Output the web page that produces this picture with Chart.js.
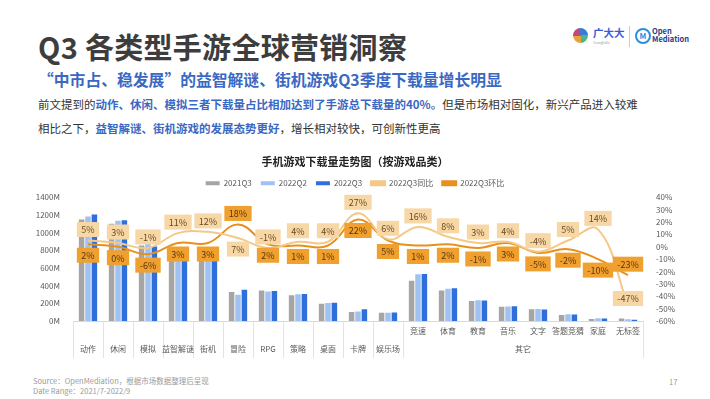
<!DOCTYPE html>
<html>
<head>
<meta charset="utf-8">
<script src="https://cdn.jsdelivr.net/npm/chart.js@4"></script>
<style>
  body { margin: 0; width: 710px; height: 399px; background: #fff; position: relative; overflow: hidden;
         font-family: "Noto Sans CJK SC", "Noto Sans", sans-serif; }
  .abs { position: absolute; white-space: nowrap; }
  #title { left: 38px; top: 28px; font-size: 29px; line-height: 36px; font-weight: 700; color: #3d3d3d; letter-spacing: 0.3px; }
  #sub { left: 38px; top: 70px; font-size: 15.8px; line-height: 20px; font-weight: 700; color: #3a68c2; }
  .body { left: 38px; font-size: 11.5px; line-height: 14px; color: #333; }
  .body b { color: #3a68c2; }
  .foot { left: 33px; font-size: 7.5px; line-height: 10px; color: #9a9a9a; }
  #page { left: 669px; top: 376px; font-size: 7.5px; color: #9a9a9a; }
  #chartBox { position: absolute; left: 0; top: 145px; width: 710px; height: 225px; }
</style>
</head>
<body>
<div class="abs" id="title">Q3 各类型手游全球营销洞察</div>
<div class="abs" id="sub">“中市占、稳发展”的益智解谜、街机游戏Q3季度下载量增长明显</div>
<div class="abs body" style="top:97px">前文提到的<b>动作、休闲、模拟三者下载量占比相加达到了手游总下载量的40%</b>。但是市场相对固化，新兴产品进入较难</div>
<div class="abs body" style="top:121px">相比之下，<b>益智解谜、街机游戏的发展态势更好</b>，增长相对较快，可创新性更高</div>

<!-- logos -->
<div class="abs" style="left:573px;top:28px;width:15px;height:15px;border-radius:50%;background:conic-gradient(#3a7bd5 0 25%, #4cb68a 0 50%, #e9a23b 0 75%, #c5477a 0 100%);"></div>
<div class="abs" style="left:593px;top:27px;font-size:10.5px;font-weight:700;color:#3b5bd6;line-height:12px;">广大大</div>
<div class="abs" style="left:593px;top:41px;font-size:3px;color:#8aa;line-height:4px;">GuangDaDa</div>
<div class="abs" style="left:629px;top:26px;width:1px;height:21px;background:#ccc;"></div>
<div class="abs" style="left:635px;top:28px;width:12px;height:12px;border:2px solid #2a8fe0;border-radius:50%;font-size:8px;font-weight:700;color:#2a8fe0;text-align:center;line-height:12px;">M</div>
<div class="abs" style="left:652px;top:27px;font-size:7.5px;font-weight:700;color:#2b3a8c;line-height:8px;">Open<br>Mediation</div>

<div id="chartBox"><canvas id="downloadsChart"></canvas></div>

<div class="abs foot" style="top:376px">Source：OpenMediation，根据市场数据整理后呈现</div>
<div class="abs foot" style="top:386px">Date Range：2021/7-2022/9</div>
<div class="abs" id="page">17</div>

<script>
const categories = ['动作', '休闲', '模拟', '益智解谜', '街机', '冒险', 'RPG', '策略', '桌面', '卡牌', '娱乐场',
                    '竞速', '体育', '教育', '音乐', '文字', '答题竞猜', '家庭', '无标签'];
const groupName = '其它';
const groupStart = 11; // first category under 其它

const q3_2021 = [1148, 1100, 853, 720, 700, 329, 344, 291, 195, 103, 92, 455, 344, 226, 161, 134, 69, 24, 28];
const q2_2022 = [1181, 1135, 895, 778, 761, 298, 334, 302, 204, 107, 92, 528, 364, 235, 163, 136, 75, 30, 20];
const q3_2022 = [1205, 1140, 843, 801, 786, 352, 340, 306, 207, 134, 96, 532, 371, 233, 168, 129, 73, 27, 15];
const yoy = [5, 3, -1, 11, 12, 7, -1, 4, 4, 27, 6, 16, 8, 3, 4, -4, 5, 14, -47];
const qoq = [2, 0, -6, 3, 3, 18, 2, 1, 1, 22, 5, 1, 2, -1, 3, -5, -2, -10, -23];

const leftTicks = { min: 0, max: 1400, step: 200 };
const rightTicks = { min: -60, max: 40, step: 10 };

const tickFont = { family: 'Noto Sans CJK SC', size: 8 };

// value boxes on the two growth lines
const lineLabels = {
  id: 'lineLabels',
  afterDatasetsDraw(chart) {
    const { ctx, chartArea } = chart;
    const yoyMeta = chart.getDatasetMeta(3);
    const qoqMeta = chart.getDatasetMeta(4);
    ctx.save();
    ctx.font = '9px "Noto Sans CJK SC"';
    ctx.textAlign = 'center';
    ctx.textBaseline = 'middle';
    categories.forEach((c, i) => {
      const swap = qoq[i] > yoy[i] + 5;
      const items = [
        { meta: yoyMeta, v: yoy[i], up: !swap, bg: '#f7d7a6', fg: '#6a4a20' },
        { meta: qoqMeta, v: qoq[i], up: swap, bg: '#efa02e', fg: '#5a3510' }
      ];
      items.forEach(it => {
        const pt = it.meta.data[i];
        const txt = it.v + '%';
        const w = ctx.measureText(txt).width + 9;
        const h = 15;
        let y = pt.y + (it.up ? -11 : 11);
        y = Math.min(y, chartArea.bottom - h / 2 - 15);
        ctx.fillStyle = it.bg;
        ctx.fillRect(pt.x - w / 2, y - h / 2, w, h);
        ctx.fillStyle = it.fg;
        ctx.fillText(txt, pt.x, y + 0.5);
      });
    });
    ctx.restore();
  }
};

// group caption under the 其它 categories
const groupLabel = {
  id: 'groupLabel',
  afterDraw(chart) {
    const x = chart.scales.x;
    const cx = (x.getPixelForValue(groupStart) + x.getPixelForValue(categories.length - 1)) / 2;
    const ctx = chart.ctx;
    ctx.save();
    ctx.font = '8px "Noto Sans CJK SC"';
    ctx.fillStyle = '#595959';
    ctx.textAlign = 'center';
    ctx.textBaseline = 'middle';
    ctx.fillText(groupName, cx, x.top + 28);
    ctx.restore();
  }
};

const ctx = document.getElementById('downloadsChart').getContext('2d');

new Chart(ctx, {
  data: {
    labels: categories,
    datasets: [
      { type: 'bar', label: '2021Q3', data: q3_2021, backgroundColor: '#a5a5a5', yAxisID: 'y', order: 2 },
      { type: 'bar', label: '2022Q2', data: q2_2022, backgroundColor: '#9fc2f2', yAxisID: 'y', order: 2 },
      { type: 'bar', label: '2022Q3', data: q3_2022, backgroundColor: '#2f6fdc', yAxisID: 'y', order: 2 },
      { type: 'line', label: '2022Q3同比', data: yoy, borderColor: '#f5c888', backgroundColor: '#f5c888',
        borderWidth: 2, pointRadius: 0, tension: 0.4, yAxisID: 'y1', order: 1 },
      { type: 'line', label: '2022Q3环比', data: qoq, borderColor: '#e8901c', backgroundColor: '#e8901c',
        borderWidth: 2, pointRadius: 0, tension: 0.4, yAxisID: 'y1', order: 1 }
    ]
  },
  options: {
    responsive: true,
    maintainAspectRatio: false,
    animation: false,
    datasets: { bar: { categoryPercentage: 0.64, barPercentage: 0.86 } },
    layout: { padding: { top: 0, bottom: 0, left: 0, right: 0 } },
    plugins: {
      title: {
        display: true,
        text: '手机游戏下载量走势图（按游戏品类）',
        color: '#222',
        font: { family: 'Noto Sans CJK SC', size: 11, weight: 'bold' },
        padding: { top: 10, bottom: 2 }
      },
      legend: {
        display: true,
        labels: {
          boxWidth: 14, boxHeight: 4, padding: 9, color: '#595959',
          font: { family: 'Noto Sans CJK SC', size: 8 },
          sort: (a, b) => a.datasetIndex - b.datasetIndex
        }
      },
      tooltip: { enabled: false }
    },
    scales: {
      x: {
        offset: true,
        grid: {
          offset: true,
          drawOnChartArea: false,
          drawTicks: true,
          tickLength: 37,
          color: (c) => (c.index !== undefined && c.index > groupStart && c.index < categories.length)
            ? 'rgba(0,0,0,0)' : '#e3e3e3'
        },
        border: { display: true, color: '#d9d9d9' },
        ticks: {
          autoSkip: false, maxRotation: 0, minRotation: 0, padding: -36,
          color: '#595959', font: { ...tickFont, lineHeight: '18px' },
          callback: (v, i) => i < groupStart ? ['', categories[i]] : [categories[i], '']
        },
        afterFit: (s) => { s.height = 49; }
      },
      y: {
        position: 'left',
        min: leftTicks.min, max: leftTicks.max,
        grid: { display: false },
        border: { display: false },
        ticks: { stepSize: leftTicks.step, autoSkip: false, padding: 5, color: '#595959', font: tickFont, callback: v => v + 'M' },
        afterFit: (s) => { s.width = 73; }
      },
      y1: {
        position: 'right',
        min: rightTicks.min, max: rightTicks.max,
        grid: { display: false },
        border: { display: false },
        ticks: { stepSize: rightTicks.step, autoSkip: false, padding: 5, color: '#595959', font: tickFont, callback: v => v + '%' },
        afterFit: (s) => { s.width = 67; }
      }
    }
  },
  plugins: [lineLabels, groupLabel]
});
</script>
</body>
</html>
